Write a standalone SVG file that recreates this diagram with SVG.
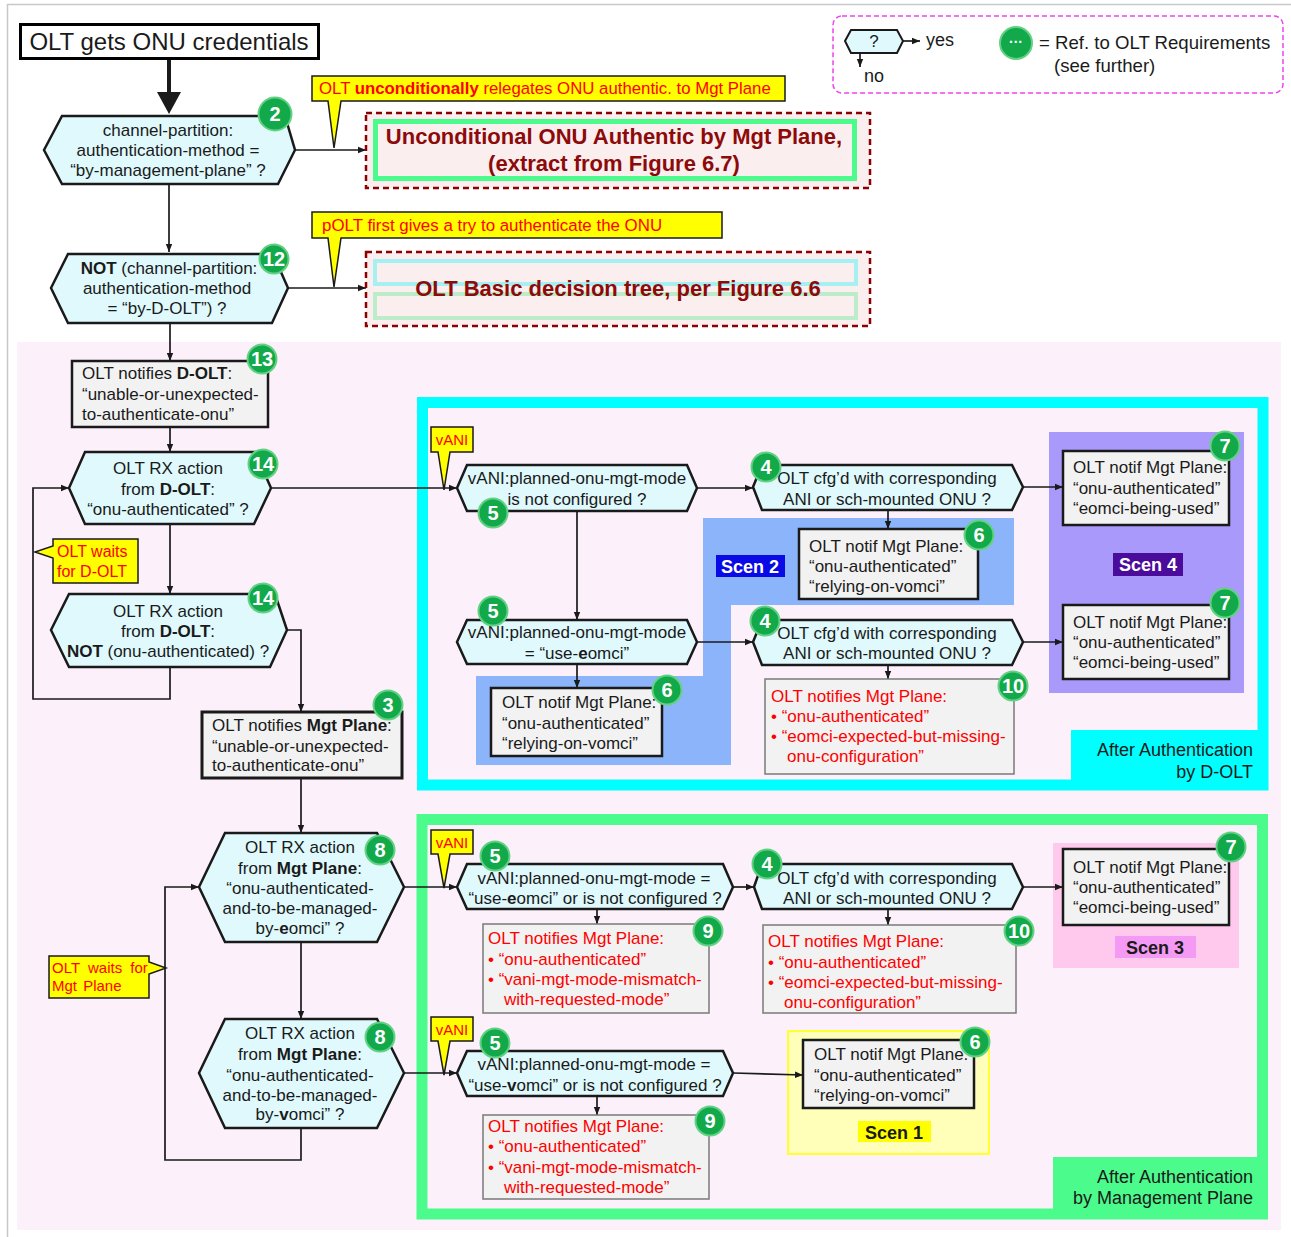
<svg xmlns="http://www.w3.org/2000/svg" width="1291" height="1237" viewBox="0 0 1291 1237">
  <defs>
    <marker id="ah" viewBox="0 0 10 10" refX="10" refY="5" markerWidth="8" markerHeight="8" markerUnits="userSpaceOnUse" orient="auto">
      <path d="M0,1 L10,5 L0,9 Z" fill="#1a1a1a"/>
    </marker>
    <style>
      text { font-family: "Liberation Sans", Arial, sans-serif; font-size: 17px; fill: #1a1a1a; }
      .c { text-anchor: middle; }
      .e { text-anchor: end; }
      .b { font-weight: bold; }
      .red { fill: #ff0000; }
      .dred { fill: #8c0a0a; font-weight: bold; font-size: 22px; text-anchor: middle; }
      .hex { fill: #dff9fd; stroke: #1a1a1a; stroke-width: 2.5; }
      .box { fill: #f2f2f2; stroke: #1a1a1a; stroke-width: 2.5; }
      .gbox { fill: #f2f2f2; stroke: #7a7a7a; stroke-width: 1.5; }
      .call { fill: #ffff00; stroke: #1a1a1a; stroke-width: 1.5; }
      .conn path { fill: none; stroke: #1a1a1a; stroke-width: 1.7; marker-end: url(#ah); }
      .badge circle { fill: #12a94a; stroke: #63d184; stroke-width: 2; }
      .badge text { fill: #ffffff; font-weight: bold; font-size: 20px; text-anchor: middle; }
      .scen { font-weight: bold; font-size: 18px; text-anchor: middle; }
    </style>
  </defs>

  <!-- page frame and shaded work area -->
  <path d="M7.5,1237 V4.5 H1291" fill="none" stroke="#c8c8c8" stroke-width="1.5"/>
  <rect x="17" y="342" width="1264" height="888" fill="#fcf0fb"/>

  <!-- region: after authentication by D-OLT -->
  <g id="region-dolt">
    <rect x="422.5" y="402.5" width="840.5" height="382.5" fill="none" stroke="#00ffff" stroke-width="11"/>
    <rect x="1071" y="730" width="187" height="50" fill="#00ffff"/>
    <text class="e" x="1253" y="756" style="font-size:18px">After Authentication</text>
    <text class="e" x="1253" y="778" style="font-size:18px">by D-OLT</text>
  </g>

  <!-- region: after authentication by management plane -->
  <g id="region-mgt">
    <rect x="422" y="819.5" width="840.5" height="394.5" fill="none" stroke="#4bfb8c" stroke-width="11"/>
    <rect x="1053" y="1157" width="205" height="52" fill="#4bfb8c"/>
    <text class="e" x="1253" y="1183" style="font-size:18px">After Authentication</text>
    <text class="e" x="1253" y="1204" style="font-size:18px">by Management Plane</text>
  </g>

  <!-- scenario backgrounds -->
  <g id="scen2">
    <path d="M703,518 H1014 V605 H731 V765 H476 V676 H703 Z" fill="#8cb4fa"/>
    <rect x="716" y="555" width="69" height="22" fill="#0a0ae6"/>
    <text class="scen" x="750" y="573" style="fill:#ffffff">Scen 2</text>
  </g>
  <g id="scen4">
    <rect x="1049" y="432" width="195" height="261" fill="#a899fb"/>
    <rect x="1113" y="553" width="70" height="23" fill="#4b0c9c"/>
    <text class="scen" x="1148" y="571" style="fill:#ffffff">Scen 4</text>
  </g>
  <g id="scen3">
    <rect x="1053" y="843" width="186" height="125" fill="#ffc9ee"/>
    <rect x="1115" y="936" width="81" height="22" fill="#f49af5"/>
    <text class="scen" x="1155" y="954">Scen 3</text>
  </g>
  <g id="scen1">
    <rect x="788" y="1031" width="201" height="123" fill="#ffffb9" stroke="#ffff33" stroke-width="2"/>
    <rect x="858" y="1121" width="73" height="21" fill="#ffff00"/>
    <text class="scen" x="894" y="1139">Scen 1</text>
  </g>

  <!-- legend -->
  <g id="legend">
    <rect x="833" y="16" width="450" height="77" rx="9" fill="none" stroke="#f040f0" stroke-width="1.5" stroke-dasharray="5,3"/>
    <polygon class="hex" points="845,41 851,30 897,30 903,41 897,53 851,53" style="stroke-width:2"/>
    <text class="c" x="874" y="47">?</text>
    <path d="M903,41 H920" stroke="#1a1a1a" stroke-width="1.7" marker-end="url(#ah)"/>
    <path d="M860,53 V67" stroke="#1a1a1a" stroke-width="1.7" marker-end="url(#ah)"/>
    <text x="926" y="46" style="font-size:18px">yes</text>
    <text x="864" y="82" style="font-size:18px">no</text>
    <g class="badge"><circle cx="1016" cy="43" r="16"/><text x="1016" y="47" style="font-size:14px">···</text></g>
    <text x="1039" y="49" style="font-size:18.6px">= Ref. to OLT Requirements</text>
    <text x="1054" y="72" style="font-size:18.6px">(see further)</text>
  </g>

  <!-- connectors -->
  <g id="connectors" class="conn">
    <path d="M169,59 V93" style="stroke-width:4;marker-end:none"/>
    <polygon points="157,92 181,92 169,114" fill="#1a1a1a"/>
    <path d="M295,150 H366"/>
    <path d="M169,184 V252"/>
    <path d="M288,288 H366"/>
    <path d="M170,323 V361"/>
    <path d="M170,427 V452"/>
    <path d="M170,524 V594"/>
    <path d="M170,667 V699 H33 V488 H69"/>
    <path d="M271,488 H457"/>
    <path d="M287,630 H301 V712"/>
    <path d="M301,778 V833"/>
    <path d="M301,942 V1019"/>
    <path d="M301,1128 V1160 H165 V887 H199"/>
    <path d="M404,887 H457"/>
    <path d="M404,1073 H457"/>
    <path d="M697,488 H753"/>
    <path d="M577,511 V620"/>
    <path d="M697,642 H753"/>
    <path d="M577,664 V688"/>
    <path d="M888,510 V529"/>
    <path d="M1023,487 H1063"/>
    <path d="M1023,642 H1063"/>
    <path d="M888,665 V679"/>
    <path d="M733,887 H754"/>
    <path d="M597,909 V924"/>
    <path d="M888,909 V925"/>
    <path d="M1023,887 H1063"/>
    <path d="M733,1073 L803,1075"/>
    <path d="M597,1096 V1115"/>
  </g>

  <!-- start -->
  <g id="start">
    <rect x="20.5" y="24.5" width="298" height="34" fill="#ffffff" stroke="#000000" stroke-width="3"/>
    <text class="c" x="169" y="50" style="font-size:24px">OLT gets ONU credentials</text>
  </g>

  <!-- decision: by-management-plane -->
  <g id="dec-by-mgt">
    <polygon class="hex" points="44,150 62,116 285,116 295,150 278,184 62,184"/>
    <text class="c" x="168" y="136">channel-partition:</text>
    <text class="c" x="168" y="156">authentication-method =</text>
    <text class="c" x="168" y="176">“by-management-plane” ?</text>
    <g class="badge"><circle cx="275" cy="114" r="16.5"/><text x="275" y="121">2</text></g>
  </g>

  <g id="note-uncond">
    <path class="call" d="M312,76 H785 V101 H341 L334,148 L328,101 H312 Z"/>
    <text x="319" y="94" class="red" style="font-size:16.8px">OLT <tspan class="b">unconditionally</tspan> relegates ONU authentic. to Mgt Plane</text>
  </g>

  <g id="ref-fig67">
    <rect x="366" y="113" width="504" height="75" fill="#fbeeee" stroke="#8b0000" stroke-width="2.5" stroke-dasharray="6,4"/>
    <rect x="375.5" y="121.5" width="479" height="57" fill="none" stroke="#4bfb8c" stroke-width="5"/>
    <text class="dred" x="614" y="144">Unconditional ONU Authentic by Mgt Plane,</text>
    <text class="dred" x="614" y="171">(extract from Figure 6.7)</text>
  </g>

  <!-- decision: by-D-OLT -->
  <g id="dec-by-dolt">
    <polygon class="hex" points="51,288 68,254 273,254 288,288 272,323 68,323"/>
    <text class="c" x="169" y="274"><tspan class="b">NOT</tspan> (channel-partition:</text>
    <text class="c" x="167" y="294">authentication-method</text>
    <text class="c" x="167" y="314">= “by-D-OLT”) ?</text>
    <g class="badge"><circle cx="274" cy="259" r="14.5"/><text x="274" y="266">12</text></g>
  </g>

  <g id="note-polt">
    <path class="call" d="M312,212 H722 V238 H341 L334,287 L328,238 H312 Z"/>
    <text x="322" y="231" class="red" style="font-size:16.9px">pOLT first gives a try to authenticate the ONU</text>
  </g>

  <g id="ref-fig66">
    <rect x="366" y="252" width="504" height="74" fill="#fbeeee" stroke="#8b0000" stroke-width="2.5" stroke-dasharray="6,4"/>
    <rect x="375" y="261" width="481" height="23" fill="none" stroke="#a6f0f2" stroke-width="4"/>
    <rect x="375" y="294" width="481" height="24" fill="none" stroke="#bdeccb" stroke-width="4"/>
    <text class="dred" x="618" y="296">OLT Basic decision tree, per Figure 6.6</text>
  </g>

  <!-- D-OLT path -->
  <g id="notify-dolt">
    <rect class="box" x="72" y="361" width="196" height="66"/>
    <text x="82" y="379">OLT notifies <tspan class="b">D-OLT</tspan>:</text>
    <text x="82" y="400">“unable-or-unexpected-</text>
    <text x="82" y="420">to-authenticate-onu”</text>
    <g class="badge"><circle cx="262" cy="359" r="14.5"/><text x="262" y="366">13</text></g>
  </g>

  <g id="rx-dolt-auth">
    <polygon class="hex" points="69,488 85,452 255,452 271,488 254,524 85,524"/>
    <text class="c" x="168" y="474">OLT RX action</text>
    <text class="c" x="168" y="495">from <tspan class="b">D-OLT</tspan>:</text>
    <text class="c" x="168" y="515">“onu-authenticated” ?</text>
    <g class="badge"><circle cx="263" cy="464" r="14.5"/><text x="263" y="471">14</text></g>
  </g>

  <g id="note-wait-dolt">
    <path class="call" d="M53,539 H138 V583 H53 V558 L35,552 L53,546 Z"/>
    <text x="57" y="557" class="red" style="font-size:16px">OLT waits</text>
    <text x="57" y="577" class="red" style="font-size:16px">for D-OLT</text>
  </g>

  <g id="rx-dolt-not">
    <polygon class="hex" points="51,630 69,594 275,594 287,630 270,667 69,667"/>
    <text class="c" x="168" y="617">OLT RX action</text>
    <text class="c" x="168" y="637">from <tspan class="b">D-OLT</tspan>:</text>
    <text class="c" x="168" y="657"><tspan class="b">NOT</tspan> (onu-authenticated) ?</text>
    <g class="badge"><circle cx="263" cy="598" r="14.5"/><text x="263" y="605">14</text></g>
  </g>

  <g id="notify-mgt">
    <rect class="box" x="202" y="712" width="200" height="66" style="stroke-width:3"/>
    <text x="212" y="731">OLT notifies <tspan class="b">Mgt Plane</tspan>:</text>
    <text x="212" y="752">“unable-or-unexpected-</text>
    <text x="212" y="771">to-authenticate-onu”</text>
    <g class="badge"><circle cx="388" cy="705" r="14.5"/><text x="388" y="712">3</text></g>
  </g>

  <!-- management plane path -->
  <g id="rx-mgt-eomci">
    <polygon class="hex" points="199,887 225,833 377,833 404,887 377,942 225,942"/>
    <text class="c" x="300" y="853">OLT RX action</text>
    <text class="c" x="300" y="874">from <tspan class="b">Mgt Plane</tspan>:</text>
    <text class="c" x="300" y="894">“onu-authenticated-</text>
    <text class="c" x="300" y="914">and-to-be-managed-</text>
    <text class="c" x="300" y="934">by-<tspan class="b">e</tspan>omci” ?</text>
    <g class="badge"><circle cx="380" cy="850" r="14.5"/><text x="380" y="857">8</text></g>
  </g>

  <g id="rx-mgt-vomci">
    <polygon class="hex" points="199,1073 225,1019 377,1019 404,1073 377,1128 225,1128"/>
    <text class="c" x="300" y="1039">OLT RX action</text>
    <text class="c" x="300" y="1060">from <tspan class="b">Mgt Plane</tspan>:</text>
    <text class="c" x="300" y="1081">“onu-authenticated-</text>
    <text class="c" x="300" y="1101">and-to-be-managed-</text>
    <text class="c" x="300" y="1120">by-<tspan class="b">v</tspan>omci” ?</text>
    <g class="badge"><circle cx="380" cy="1037" r="14.5"/><text x="380" y="1044">8</text></g>
  </g>

  <g id="note-wait-mgt">
    <path class="call" d="M49,956 H149 V962 L166,968 L149,974 V998 H49 Z"/>
    <text x="52" y="973" class="red" style="font-size:15px;word-spacing:4px">OLT waits for</text>
    <text x="52" y="991" class="red" style="font-size:15px;word-spacing:2px">Mgt Plane</text>
  </g>

  <!-- vANI markers -->
  <g id="vani-1">
    <path class="call" d="M431,427 H473 V452 H450 L444,490 L438,452 H431 Z"/>
    <text class="c red" x="452" y="445" style="font-size:15px">vANI</text>
  </g>
  <g id="vani-2">
    <path class="call" d="M431,830 H473 V854 H450 L444,888 L438,854 H431 Z"/>
    <text class="c red" x="452" y="848" style="font-size:15px">vANI</text>
  </g>
  <g id="vani-3">
    <path class="call" d="M431,1017 H473 V1041 H450 L444,1075 L438,1041 H431 Z"/>
    <text class="c red" x="452" y="1035" style="font-size:15px">vANI</text>
  </g>

  <!-- D-OLT authenticated branch -->
  <g id="vani-not-cfg">
    <polygon class="hex" points="457,488 467,465 687,465 697,488 687,511 467,511"/>
    <text class="c" x="577" y="484">vANI:planned-onu-mgt-mode</text>
    <text class="c" x="577" y="505">is not configured ?</text>
    <g class="badge"><circle cx="493" cy="513" r="14.5"/><text x="493" y="520">5</text></g>
  </g>

  <g id="vani-eomci">
    <polygon class="hex" points="457,642 467,620 687,620 697,642 687,664 467,664"/>
    <text class="c" x="577" y="638">vANI:planned-onu-mgt-mode</text>
    <text class="c" x="577" y="659">= “use-<tspan class="b">e</tspan>omci”</text>
    <g class="badge"><circle cx="493" cy="611" r="14.5"/><text x="493" y="618">5</text></g>
  </g>

  <g id="notif-vomci-a">
    <rect class="box" x="491" y="688" width="171" height="68"/>
    <text x="502" y="708">OLT notif Mgt Plane:</text>
    <text x="502" y="729">“onu-authenticated”</text>
    <text x="502" y="749">“relying-on-vomci”</text>
    <g class="badge"><circle cx="667" cy="690" r="14.5"/><text x="667" y="697">6</text></g>
  </g>

  <g id="cfg-ani-a">
    <polygon class="hex" points="753,487 762,465 1012,465 1023,487 1012,510 762,510"/>
    <text class="c" x="887" y="484">OLT cfg’d with corresponding</text>
    <text class="c" x="887" y="505">ANI or sch-mounted ONU ?</text>
    <g class="badge"><circle cx="766" cy="467" r="14.5"/><text x="766" y="474">4</text></g>
  </g>

  <g id="notif-vomci-b">
    <rect class="box" x="799" y="529" width="179" height="70"/>
    <text x="809" y="552">OLT notif Mgt Plane:</text>
    <text x="809" y="572">“onu-authenticated”</text>
    <text x="809" y="592">“relying-on-vomci”</text>
    <g class="badge"><circle cx="979" cy="535" r="14.5"/><text x="979" y="542">6</text></g>
  </g>

  <g id="notif-eomci-a">
    <rect class="box" x="1063" y="451" width="166" height="74"/>
    <text x="1073" y="473">OLT notif Mgt Plane:</text>
    <text x="1073" y="494">“onu-authenticated”</text>
    <text x="1073" y="514">“eomci-being-used”</text>
    <g class="badge"><circle cx="1225" cy="446" r="14.5"/><text x="1225" y="453">7</text></g>
  </g>

  <g id="cfg-ani-b">
    <polygon class="hex" points="753,642 762,620 1012,620 1023,642 1012,665 762,665"/>
    <text class="c" x="887" y="639">OLT cfg’d with corresponding</text>
    <text class="c" x="887" y="659">ANI or sch-mounted ONU ?</text>
    <g class="badge"><circle cx="765" cy="621" r="14.5"/><text x="765" y="628">4</text></g>
  </g>

  <g id="notif-eomci-b">
    <rect class="box" x="1063" y="605" width="166" height="74"/>
    <text x="1073" y="628">OLT notif Mgt Plane:</text>
    <text x="1073" y="648">“onu-authenticated”</text>
    <text x="1073" y="668">“eomci-being-used”</text>
    <g class="badge"><circle cx="1225" cy="603" r="14.5"/><text x="1225" y="610">7</text></g>
  </g>

  <g id="notif-missing-a">
    <rect class="gbox" x="765" y="679" width="249" height="95"/>
    <text x="771" y="702" class="red">OLT notifies Mgt Plane:</text>
    <text x="771" y="722" class="red">• “onu-authenticated”</text>
    <text x="771" y="742" class="red">• “eomci-expected-but-missing-</text>
    <text x="787" y="762" class="red">onu-configuration”</text>
    <g class="badge"><circle cx="1013" cy="686" r="14.5"/><text x="1013" y="693">10</text></g>
  </g>

  <!-- management plane authenticated branch -->
  <g id="vani-eomci-or-none">
    <polygon class="hex" points="457,887 467,864 723,864 733,887 723,909 467,909"/>
    <text class="c" x="594" y="884">vANI:planned-onu-mgt-mode =</text>
    <text class="c" x="595" y="904">“use-<tspan class="b">e</tspan>omci” or is not configured ?</text>
    <g class="badge"><circle cx="495" cy="856" r="14.5"/><text x="495" y="863">5</text></g>
  </g>

  <g id="notif-mismatch-a">
    <rect class="gbox" x="483" y="924" width="226" height="89"/>
    <text x="488" y="944" class="red">OLT notifies Mgt Plane:</text>
    <text x="488" y="965" class="red">• “onu-authenticated”</text>
    <text x="488" y="985" class="red">• “vani-mgt-mode-mismatch-</text>
    <text x="504" y="1005" class="red">with-requested-mode”</text>
    <g class="badge"><circle cx="708" cy="931" r="14.5"/><text x="708" y="938">9</text></g>
  </g>

  <g id="cfg-ani-c">
    <polygon class="hex" points="754,887 762,864 1012,864 1023,887 1012,909 762,909"/>
    <text class="c" x="887" y="884">OLT cfg’d with corresponding</text>
    <text class="c" x="887" y="904">ANI or sch-mounted ONU ?</text>
    <g class="badge"><circle cx="767" cy="864" r="14.5"/><text x="767" y="871">4</text></g>
  </g>

  <g id="notif-missing-b">
    <rect class="gbox" x="763" y="925" width="253" height="88"/>
    <text x="768" y="947" class="red">OLT notifies Mgt Plane:</text>
    <text x="768" y="968" class="red">• “onu-authenticated”</text>
    <text x="768" y="988" class="red">• “eomci-expected-but-missing-</text>
    <text x="784" y="1008" class="red">onu-configuration”</text>
    <g class="badge"><circle cx="1019" cy="931" r="14.5"/><text x="1019" y="938">10</text></g>
  </g>

  <g id="notif-eomci-c">
    <rect class="box" x="1063" y="849" width="166" height="76"/>
    <text x="1073" y="873">OLT notif Mgt Plane:</text>
    <text x="1073" y="893">“onu-authenticated”</text>
    <text x="1073" y="913">“eomci-being-used”</text>
    <g class="badge"><circle cx="1231" cy="847" r="14.5"/><text x="1231" y="854">7</text></g>
  </g>

  <g id="vani-vomci-or-none">
    <polygon class="hex" points="457,1073 467,1051 723,1051 733,1073 723,1096 467,1096"/>
    <text class="c" x="594" y="1070">vANI:planned-onu-mgt-mode =</text>
    <text class="c" x="595" y="1091">“use-<tspan class="b">v</tspan>omci” or is not configured ?</text>
    <g class="badge"><circle cx="495" cy="1043" r="14.5"/><text x="495" y="1050">5</text></g>
  </g>

  <g id="notif-mismatch-b">
    <rect class="gbox" x="483" y="1115" width="226" height="84"/>
    <text x="488" y="1132" class="red">OLT notifies Mgt Plane:</text>
    <text x="488" y="1152" class="red">• “onu-authenticated”</text>
    <text x="488" y="1173" class="red">• “vani-mgt-mode-mismatch-</text>
    <text x="504" y="1193" class="red">with-requested-mode”</text>
    <g class="badge"><circle cx="710" cy="1121" r="14.5"/><text x="710" y="1128">9</text></g>
  </g>

  <g id="notif-vomci-c">
    <rect class="box" x="803" y="1040" width="171" height="68"/>
    <text x="814" y="1060">OLT notif Mgt Plane:</text>
    <text x="814" y="1081">“onu-authenticated”</text>
    <text x="814" y="1101">“relying-on-vomci”</text>
    <g class="badge"><circle cx="975" cy="1042" r="14.5"/><text x="975" y="1049">6</text></g>
  </g>
</svg>
